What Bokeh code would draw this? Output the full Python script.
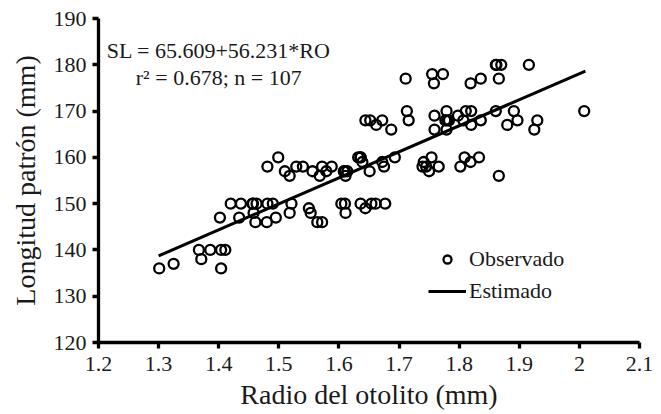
from bokeh.plotting import figure
from bokeh.models import Range1d, FixedTicker, Label, Legend, LegendItem
from bokeh.embed import file_html
from bokeh.resources import INLINE

# Observed data: otolith radius (mm) and standard length (mm)
radio = [1.301, 1.325, 1.367, 1.371, 1.386, 1.404, 1.411, 1.404, 1.402, 1.420,
         1.437, 1.434, 1.458, 1.456, 1.463, 1.461, 1.480, 1.481, 1.490, 1.495,
         1.521, 1.518, 1.550, 1.553, 1.564, 1.572, 1.481, 1.499, 1.510, 1.518,
         1.529, 1.540, 1.556, 1.568, 1.572, 1.579, 1.588, 1.608, 1.614, 1.611,
         1.632, 1.636, 1.639, 1.651, 1.672, 1.675, 1.693, 1.604, 1.610, 1.611,
         1.636, 1.644, 1.654, 1.661, 1.677, 1.644, 1.652, 1.662, 1.672, 1.687,
         1.711, 1.713, 1.716, 1.741, 1.739, 1.750, 1.754, 1.766, 1.755, 1.773,
         1.758, 1.759, 1.759, 1.779, 1.777, 1.783, 1.779, 1.798, 1.807, 1.811,
         1.820, 1.820, 1.836, 1.819, 1.836, 1.802, 1.809, 1.819, 1.833, 1.861,
         1.870, 1.866, 1.916, 1.861, 1.891, 1.880, 1.897, 1.930, 1.925, 2.008,
         1.866, 1.745, 1.457, 1.610, 1.636, 1.780, 1.862]
longitud = [136, 137, 140, 138, 140, 140, 140, 136, 147, 150,
            150, 147, 148, 150, 150, 146, 146, 150, 150, 147,
            150, 148, 149, 148, 146, 146, 158, 160, 157, 156,
            158, 158, 157, 156, 158, 157, 158, 157, 157, 156,
            160, 160, 159, 157, 159, 158, 160, 150, 150, 148,
            150, 149, 150, 150, 150, 168, 168, 167, 168, 166,
            177, 170, 168, 159, 158, 157, 160, 158, 178, 178,
            176, 169, 166, 170, 168, 168, 166, 169, 168, 170,
            170, 167, 168, 176, 177, 158, 160, 159, 160, 180,
            180, 177, 180, 170, 170, 167, 168, 168, 166, 170,
            156, 158, 150, 157, 160, 168, 180]

# Fitted model SL = a + b*RO
a, b = 65.609, 56.231
x_fit = [1.30, 2.01]
y_fit = [a + b * v for v in x_fit]

x_ticks = [1.2, 1.3, 1.4, 1.5, 1.6, 1.7, 1.8, 1.9, 2.0, 2.1]
x_tick_labels = ["1.2", "1.3", "1.4", "1.5", "1.6", "1.7", "1.8", "1.9", "2", "2.1"]
y_ticks = [120, 130, 140, 150, 160, 170, 180, 190]

FONT = "Liberation Serif"
TXT = "#1a1a1a"

p = figure(width=661, height=414, output_backend="svg", toolbar_location=None,
           x_range=Range1d(1.2, 2.1), y_range=Range1d(120, 190),
           min_border_left=98, min_border_right=22, min_border_top=18,
           min_border_bottom=72)
p.outline_line_color = None
p.xgrid.visible = False
p.ygrid.visible = False
p.background_fill_color = "white"
p.border_fill_color = "white"

for ax in (p.xaxis[0], p.yaxis[0]):
    ax.axis_line_width = 3.3
    ax.axis_line_color = "black"
    ax.major_tick_line_width = 3.3
    ax.major_tick_line_color = "black"
    ax.major_tick_out = 6
    ax.major_tick_in = 0
    ax.minor_tick_line_color = None
    ax.major_label_text_font = FONT
    ax.major_label_text_font_size = "22px"
    ax.major_label_text_color = TXT
    ax.axis_label_text_font = FONT
    ax.axis_label_text_font_size = "28px"
    ax.axis_label_text_font_style = "normal"
    ax.axis_label_text_color = TXT

p.xaxis.ticker = FixedTicker(ticks=x_ticks)
p.xaxis.major_label_overrides = {t: l for t, l in zip(x_ticks, x_tick_labels)}
p.yaxis.ticker = FixedTicker(ticks=y_ticks)
p.xaxis.axis_label = "Radio del otolito (mm)"
p.yaxis.axis_label = "Longitud patrón (mm)"
p.xaxis.major_label_standoff = 8
p.yaxis.major_label_standoff = 6
p.xaxis.axis_label_standoff = 5
p.yaxis.axis_label_standoff = 10

obs = p.scatter(radio, longitud, marker="circle", size=10, fill_color=None,
                line_color="black", line_width=2.3)
est = p.line(x_fit, y_fit, line_color="black", line_width=3)

legend = Legend(items=[LegendItem(label="Observado", renderers=[obs]),
                       LegendItem(label="Estimado", renderers=[est])],
                location=(330, 38), orientation="vertical")
legend.label_text_font = FONT
legend.label_text_font_size = "22px"
legend.label_text_color = TXT
legend.glyph_width = 38
legend.glyph_height = 20
legend.label_height = 20
legend.spacing = 6
legend.label_standoff = 3
legend.padding = 0
legend.margin = 0
legend.border_line_color = None
legend.background_fill_alpha = 0
p.add_layout(legend, "center")

eq1 = Label(x=1.4, y=183.1, text="SL = 65.609+56.231*RO", text_align="center",
            text_baseline="middle", text_font=FONT, text_font_size="22px",
            text_color=TXT)
eq2 = Label(x=1.4, y=177.2, text="r\u00b2 = 0.678; n = 107", text_align="center",
            text_baseline="middle", text_font=FONT, text_font_size="22px",
            text_color=TXT)
p.add_layout(eq1)
p.add_layout(eq2)

open("out.html", "w").write(file_html(p, INLINE))
